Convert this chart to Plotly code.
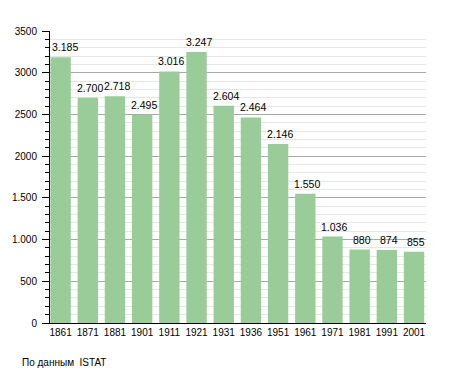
import plotly.graph_objects as go

years = ["1861", "1871", "1881", "1901", "1911", "1921", "1931", "1936", "1951", "1961", "1971", "1981", "1991", "2001"]
population = [3185, 2700, 2718, 2495, 3016, 3247, 2604, 2464, 2146, 1550, 1036, 880, 874, 855]
bar_labels = ["3.185", "2.700", "2.718", "2.495", "3.016", "3.247", "2.604", "2.464", "2.146", "1.550", "1.036", "880", "874", "855"]
y_tickvals = [0, 500, 1000, 1500, 2000, 2500, 3000, 3500]
y_ticktext = ["0", "500", "1.000", "1.500", "2000", "2500", "3000", "3500"]

FONT = "Liberation Sans, Arial, sans-serif"

fig = go.Figure(go.Bar(
    x=years, y=population,
    marker=dict(color="rgb(153,204,153)", line=dict(width=0)),
    cliponaxis=False, width=0.75,
))

# on a category axis, annotation x is the category's serial index
label_annots = [
    dict(x=i, y=val, text=lab, xref="x", yref="y", showarrow=False,
         xanchor="center", yanchor="bottom", xshift=(4 if i == 0 else 2), yshift=2,
         font=dict(size=10.5, color="black", family=FONT))
    for i, (val, lab) in enumerate(zip(population, bar_labels))
]

fig.update_layout(
    width=447, height=365,
    margin=dict(l=42, r=29, t=23, b=50, autoexpand=False),
    paper_bgcolor="white", plot_bgcolor="white",
    font=dict(family=FONT, size=10, color="black"),
    showlegend=False,
    annotations=label_annots + [dict(text="По данным  ISTAT", xref="paper", yref="paper",
                      x=-0.0798, y=-0.1336, xanchor="left", yanchor="middle",
                      showarrow=False, font=dict(size=10, color="black", family=FONT))],
)
fig.update_xaxes(type="category", range=[-0.39, 13.44], showline=True, linecolor="black", linewidth=1,
                 ticks="", tickfont=dict(size=10), showgrid=False, automargin=False)
fig.update_yaxes(range=[0, 3500], tickvals=y_tickvals, ticktext=y_ticktext,
                 showline=True, linecolor="black", linewidth=1,
                 ticks="outside", ticklen=7, tickcolor="black",
                 ticklabelstandoff=3,
                 showgrid=True, gridcolor="#a8a8a8", gridwidth=1,
                 zeroline=False, automargin=False,
                 minor=dict(dtick=100, showgrid=True, gridcolor="#e6e6e6",
                            ticks="outside", ticklen=4, tickcolor="black"),
                 tickfont=dict(size=10))

fig.write_html("out.html")
